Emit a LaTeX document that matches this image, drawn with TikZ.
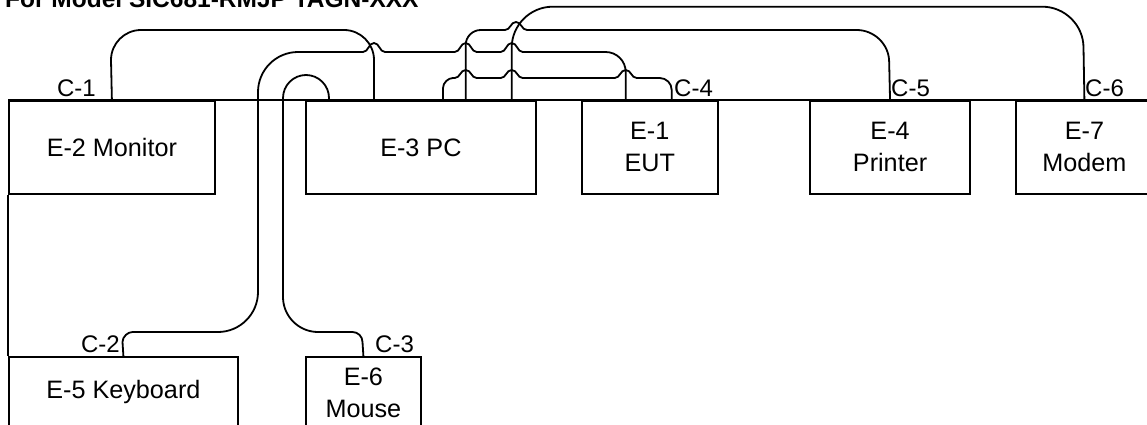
\documentclass[tikz,border=0pt]{standalone}
\usepackage{fontspec}
\setmainfont{Liberation Sans}
\usetikzlibrary{calc}
\begin{document}
\begin{tikzpicture}[x=1pt,y=-1pt,
  box/.style={draw, line width=1.8pt, inner sep=0pt, anchor=north west, align=center, font=\fontsize{25.2}{32}\selectfont},
  cable/.style={line width=1.8pt},
  lbl/.style={inner sep=0pt, font=\fontsize{24}{29}\selectfont},
  ttl/.style={inner sep=0pt, font=\fontsize{24.5}{30}\selectfont\bfseries}]
\useasboundingbox (0,0) rectangle (1147,425);
\clip (0,0) rectangle (1147,425);

% title
\node[ttl, anchor=base west] (title) at (5,7.5) {For Model SIC681-RMJP TAGN-XXX};

% devices
\node[box, minimum width=206pt, minimum height=93pt] (mon) at (8,100) {E-2 Monitor};
\node[box, minimum width=230pt, minimum height=93pt] (pc) at (305,100) {E-3 PC};
\node[box, minimum width=135.7pt, minimum height=93pt] (eut) at (581,100) {E-1\\EUT};
\node[box, minimum width=160.3pt, minimum height=93pt] (prn) at (809,100) {E-4\\Printer};
\node[box, minimum width=137pt, minimum height=93pt] (mdm) at (1015,100) {E-7\\Modem};
\node[box, minimum width=229pt, minimum height=71pt] (kbd) at (8,356) {E-5 Keyboard};
\node[box, minimum width=115pt, minimum height=71pt] (mouse) at (305,356) {E-6\\Mouse};

% table line and left edge
\draw[cable] (mon.north west) -- (mdm.north east);
\draw[cable] (mon.south west) -- (kbd.north west);

% connection points
\coordinate (c1a) at (mon.north);
\coordinate (c1b) at ($(pc.north west)+(69,0)$);
\coordinate (c2a) at (kbd.north);
\coordinate (c2b) at ($(eut.north west)+(44.7,0)$);
\coordinate (c3a) at (mouse.north);
\coordinate (c3b) at ($(pc.north west)+(24,0)$);
\coordinate (c4a) at ($(pc.north west)+(138,0)$);
\coordinate (c4b) at ($(eut.north west)+(90.7,0)$);
\coordinate (c5a) at ($(pc.north west)+(160.7,0)$);
\coordinate (c5b) at (prn.north);
\coordinate (c6a) at ($(pc.north west)+(206.7,0)$);
\coordinate (c6b) at (mdm.north);

% C-1 Monitor -> PC
\draw[cable] (c1a) -- (111,60) .. controls (111,43.5) and (124.5,30) .. (141,30)
  -- (344,30) .. controls (360.5,30) and (374,43.5) .. (374,60) -- (c1b);

% C-2 Keyboard -> EUT
\draw[cable] (c2a) -- (122.5,342) .. controls (122.5,336.5) and (128,332) .. (132.5,332)
  -- (218,332) .. controls (240,332) and (258,314) .. (258,292)
  -- (258,92) .. controls (258,70) and (276,52) .. (298,52)
  -- (363,52) .. controls (368.5,52) and (368.5,43) .. (374,43) .. controls (379.5,43) and (379.5,52) .. (385,52)
  -- (454.7,52) .. controls (460.2,52) and (460.2,43) .. (465.7,43) .. controls (471.2,43) and (471.2,52) .. (476.7,52)
  -- (500.7,52) .. controls (506.2,52) and (506.2,43) .. (511.7,43) .. controls (517.2,43) and (517.2,52) .. (522.7,52)
  -- (605.7,52) .. controls (616.7,52) and (625.7,61) .. (625.7,72) -- (c2b);

% C-3 Mouse -> PC
\draw[cable] (c3a) -- (362.5,342) .. controls (362.5,336.5) and (358,332) .. (352.5,332)
  -- (318,332) .. controls (298.75,332) and (283,316.25) .. (283,297)
  -- (283,98) .. controls (283,85.35) and (293.35,75) .. (306,75)
  .. controls (318.65,75) and (329,85.35) .. (329,98) -- (c3b);

% C-4 PC -> EUT
\draw[cable] (c4a) -- (443,88) .. controls (443,82.5) and (448.5,78) .. (453,78)
  -- (454.7,78) .. controls (460.2,78) and (460.2,70) .. (465.7,70) .. controls (471.2,70) and (471.2,78) .. (476.7,78)
  -- (500.7,78) .. controls (506.2,78) and (506.2,70) .. (511.7,70) .. controls (517.2,70) and (517.2,78) .. (522.7,78)
  -- (614.7,78) .. controls (620.2,78) and (620.2,70) .. (625.7,70) .. controls (631.2,70) and (631.2,78) .. (636.7,78)
  -- (659.7,78) .. controls (666.3,78) and (671.7,83.4) .. (671.7,90) -- (c4b);

% C-5 PC -> Printer
\draw[cable] (c5a) -- (465.7,45) .. controls (465.7,36.75) and (472.45,30) .. (480.7,30)
  -- (505,30) .. controls (510.5,30) and (510.5,22) .. (516,22) .. controls (521.5,22) and (521.5,30) .. (527,30)
  -- (856.7,30) .. controls (874.3,30) and (889.15,44.4) .. (889.15,62) -- (c5b);

% C-6 PC -> Modem
\draw[cable] (c6a) -- (511.7,47.7) .. controls (511.7,25.15) and (530.15,6.7) .. (552.7,6.7)
  -- (1042.3,6.7) .. controls (1064.85,6.7) and (1083.5,25.15) .. (1083.5,47.7) -- (c6b);

% cable labels
\node[lbl, anchor=base east] (l1) at (96,97) {C-1};
\node[lbl, anchor=base east] (l2) at (120,352) {C-2};
\node[lbl, anchor=base west] (l3) at (375,352) {C-3};
\node[lbl, anchor=base west] (l4) at (674,97) {C-4};
\node[lbl, anchor=base west] (l5) at (891,97) {C-5};
\node[lbl, anchor=base west] (l6) at (1085,97) {C-6};
\end{tikzpicture}
\end{document}
